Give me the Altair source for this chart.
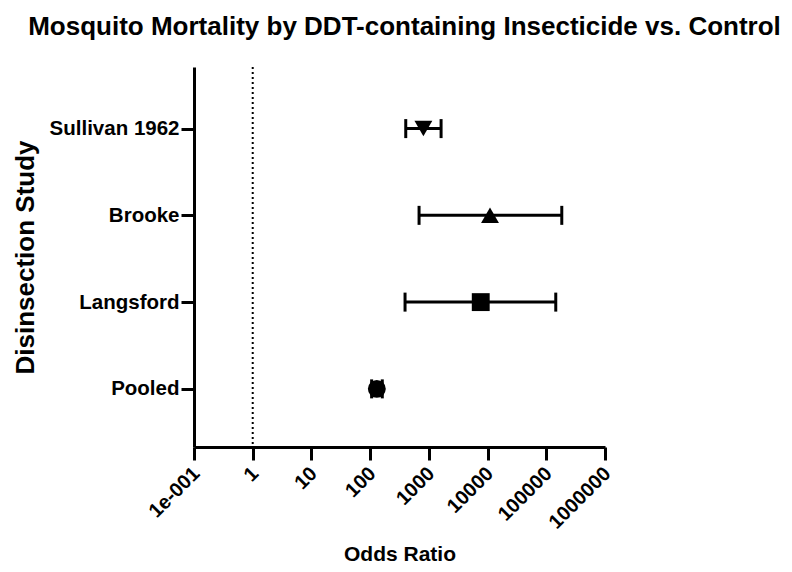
import altair as alt
import pandas as pd

studies = ["Sullivan 1962", "Brooke", "Langsford", "Pooled"]
ypos = [4, 3, 2, 1]
odds = [807, 11000, 7650, 130]
lo = [404, 681, 393, 106]
hi = [1615, 183600, 145000, 161]
shapes = ["triangle-down", "triangle-up", "square", "circle"]
x_ticks = [0.1, 1, 10, 100, 1000, 10000, 100000, 1000000]

df = pd.DataFrame({"study": studies, "y": ypos, "or": odds, "lo": lo, "hi": hi})
ends = pd.DataFrame({"y": ypos * 2, "x": lo + hi})
ref = pd.DataFrame({"x": [1]})

label_expr = " : ".join(
    [f"datum.value == {v} ? '{s}'" for s, v in zip(studies, ypos)]
) + " : ''"

FONT = "Liberation Sans"
xscale = alt.Scale(type="log", domain=[0.1, 1000000], nice=False)
yscale = alt.Scale(domain=[0.33, 4.71], nice=False, zero=False)

xaxis = alt.Axis(
    title="Odds Ratio", values=x_ticks, labelAngle=-45, grid=False,
    labelExpr="datum.value == 0.1 ? '1e-001' : format(datum.value, 'd')",
    labelFont=FONT, labelFontWeight="bold", labelFontSize=20,
    labelColor="black", tickSize=13, tickWidth=3, tickColor="black",
    domainWidth=3, domainColor="black", titleFont=FONT,
    titleFontSize=21, titleFontWeight="bold", titleColor="black",
    titlePadding=11, labelPadding=3, labelOffset=-5,
    labelFlush=False, labelOverlap=False,
)
yaxis = alt.Axis(
    title="Disinsection Study", values=ypos, labelExpr=label_expr, grid=False,
    labelFont=FONT, labelFontWeight="bold", labelFontSize=20.5,
    labelColor="black", tickSize=13, tickWidth=3, tickColor="black",
    domainWidth=3, domainColor="black", titleFont=FONT,
    titleFontSize=26, titleFontWeight="bold", titleColor="black",
    titlePadding=11, labelPadding=2,
)

base = alt.Chart(df)

refline = alt.Chart(ref).mark_rule(
    color="black", strokeWidth=2, strokeDash=[2, 3]
).encode(x=alt.X("x:Q", scale=xscale, axis=xaxis))

bars = base.mark_rule(color="black", strokeWidth=3).encode(
    x=alt.X("lo:Q", scale=xscale, axis=xaxis),
    x2="hi:Q",
    y=alt.Y("y:Q", scale=yscale, axis=yaxis),
)

caps = alt.Chart(ends).mark_tick(
    color="black", orient="vertical", size=19, thickness=3, opacity=1
).encode(
    x=alt.X("x:Q", scale=xscale),
    y=alt.Y("y:Q", scale=yscale),
)

points = base.mark_point(filled=True, opacity=1, color="black").encode(
    x=alt.X("or:Q", scale=xscale),
    y=alt.Y("y:Q", scale=yscale),
    shape=alt.Shape("study:N", scale=alt.Scale(domain=studies, range=shapes), legend=None),
    size=alt.Size("study:N", scale=alt.Scale(domain=studies, range=[320, 320, 290, 210]), legend=None),
)

chart = alt.layer(refline, bars, caps, points).properties(
    width=411, height=380,
    padding={"left": 186, "top": 59, "right": 179, "bottom": 117},
    autosize=alt.AutoSizeParams(type="none"),
    title=alt.Title(
        "Mosquito Mortality by DDT-containing Insecticide vs. Control",
        font=FONT, fontSize=26, fontWeight="bold", color="black",
        anchor="middle", offset=26, dx=5,
    ),
).configure_view(stroke=None)

chart.save("out.html", embed_options={"renderer": "svg", "actions": False})
